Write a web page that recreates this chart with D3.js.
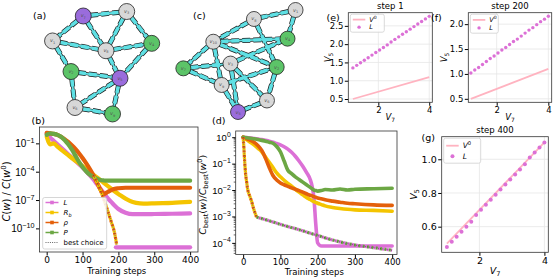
<!DOCTYPE html>
<html>
<head>
<meta charset="utf-8">
<script src="https://cdn.jsdelivr.net/npm/d3@7"></script>
<style>
  body { margin: 0; background: #fff; }
  svg { font-family: "DejaVu Sans", sans-serif; }
</style>
</head>
<body>
<div class="fig"></div>
<script>
// ---------- networks: node layout in 0..100 units ----------
const aNames = ["1", "2", "3", "4", "5", "6", "7", "8", "9"];
const aKinds = ["free", "fixed", "free", "fixed", "source", "free", "source", "free", "fixed"];
const aX = [2.5, 20.6, 75.2, 99.7, 68.6, 24.5, 32.6, 54.9, 61.3];
const aY = [28.8, 58.2, 0.5, 31.1, 64.7, 92.8, 4.8, 38.2, 99.0];
const aEdges = [["7","3"],["7","1"],["7","8"],["3","8"],["3","4"],["1","8"],["1","2"],["8","4"],
                ["8","5"],["4","5"],["2","5"],["2","6"],["5","6"],["5","9"],["6","9"]];

const cNames = ["1", "8", "4", "10", "3", "2", "7", "9", "6", "5"];
const cKinds = ["free", "free", "fixed", "free", "free", "fixed", "fixed", "free", "free", "source"];
const cX = [99.6, 62.8, 92.5, 26.8, 42.0, 82.9, 0.3, 34.2, 74.3, 48.7];
const cY = [0, 8.8, 28.1, 31.1, 52.5, 55.9, 57.2, 73.5, 88.7, 100];
const cEdges = [["1","8"],["1","4"],["8","10"],["8","2"],["10","4"],["10","2"],["10","7"],["10","9"],
                ["7","3"],["7","9"],["3","4"],["3","6"],["3","5"],["9","2"],["9","5"],["2","6"],["6","5"]];

// ---------- (b) cost vs training steps (log10 values) ----------
const bSteps = [0,10,20,30,40,50,60,70,80,90,100,110,120,130,140,150,160,170,180,190,200,220,240,260,280,300,350,400];
const bL   = [0.05,-0.4,-0.75,-1.1,-1.45,-1.8,-2.15,-2.5,-2.85,-3.2,-3.55,-3.95,-4.35,-4.8,-5.3,-5.8,-6.3,-6.8,-7.2,-7.6,-7.95,-8.35,-8.5,-8.5,-8.5,-8.48,-8.45,-8.42];
const bRb  = [-0.3,-1.1,-1.0,-1.35,-1.65,-1.95,-2.25,-2.55,-2.85,-3.1,-3.4,-3.7,-4.0,-4.3,-4.6,-4.9,-5.2,-5.5,-5.8,-6.1,-6.35,-6.85,-7.2,-7.35,-7.38,-7.35,-7.3,-7.2];
const bRho = [0.1,0.05,0.0,-0.1,-0.3,-0.55,-0.85,-1.2,-1.6,-2.05,-2.55,-3.1,-3.7,-4.35,-5.1,-5.9,-6.35,-6.15,-5.95,-5.8,-5.75,-5.7,-5.7,-5.7,-5.7,-5.7,-5.7,-5.7];
const bP   = [-0.1,0.05,0.0,-0.1,-0.3,-0.65,-1.1,-1.65,-2.3,-2.95,-3.5,-3.95,-4.3,-4.55,-4.75,-4.88,-4.93,-4.95,-4.95,-4.95,-4.95,-4.95,-4.95,-4.95,-4.95,-4.95,-4.95,-4.95];
const bBestSteps = [130,140,150,160,170,180,190,195];
const bBestVals  = [-4.35,-5.1,-6.0,-7.0,-8.1,-9.3,-10.6,-11.7];
const bFloorSteps = [193, 400];
const bFloorVals  = [-12.0, -12.0];

// ---------- (d) best-choice cost (log10 values) ----------
const dSteps = [0,10,20,30,40,50,60,70,80,90,100,110,120,130,140,150,160,170,180,185,190,195,200,210,220,240,260,280,300,350,400];
const dL   = [0,-0.01,-0.03,-0.05,-0.07,-0.09,-0.12,-0.15,-0.19,-0.24,-0.29,-0.36,-0.45,-0.57,-0.72,-0.9,-1.1,-1.33,-1.6,-1.85,-2.3,-3.3,-4.0,-4.12,-4.12,-4.12,-4.12,-4.12,-4.12,-4.12,-4.12];
const dRb  = [0,-0.1,-0.2,-0.3,-0.42,-0.55,-0.75,-0.95,-1.15,-1.35,-1.5,-1.63,-1.75,-1.85,-1.97,-2.08,-2.18,-2.28,-2.36,-2.4,-2.44,-2.47,-2.5,-2.55,-2.6,-2.66,-2.7,-2.73,-2.75,-2.77,-2.8];
const dRho = [0,-0.06,-0.12,-0.2,-0.32,-0.5,-0.8,-1.15,-1.45,-1.62,-1.73,-1.8,-1.86,-1.92,-1.97,-2.02,-2.08,-2.14,-2.2,-2.22,-2.25,-2.27,-2.3,-2.33,-2.37,-2.42,-2.46,-2.5,-2.52,-2.56,-2.58];
const dP   = [0,-0.02,-0.04,-0.06,-0.09,-0.12,-0.15,-0.19,-0.23,-0.35,-0.55,-0.9,-1.25,-1.38,-1.5,-1.6,-1.7,-1.8,-1.9,-1.95,-2.0,-2.02,-2.04,-2.02,-1.98,-2.0,-1.96,-2.0,-1.97,-1.95,-1.93];
const dBest1Steps = [0,2,4,6,9,13,17,22,28,36];
const dBest1Vals  = [0,-0.4,-0.9,-1.3,-1.66,-2.03,-2.2,-2.4,-2.7,-3.03];
const dBest2Steps = [36,60,100,150,200,250,300,350,400];
const dBest2Vals  = [-3.03,-3.12,-3.3,-3.5,-3.72,-3.93,-4.08,-4.18,-4.28];

// ---------- (e)-(g) V5 vs V7 ----------
const sweepV7 = [1.0,1.15,1.3,1.45,1.6,1.75,1.9,2.05,2.2,2.35,2.5,2.65,2.8,2.95,3.1,3.25,3.4,3.55,3.7,3.85,4.0];
const v0X = [1, 4];
const v0Y = [0.5, 1.1];
const eL = [1.35,1.42,1.49,1.56,1.63,1.70,1.77,1.84,1.91,1.98,2.06,2.13,2.20,2.27,2.34,2.41,2.48,2.55,2.62,2.69,2.76];
const fL = [1.02,1.08,1.13,1.19,1.25,1.31,1.36,1.42,1.48,1.53,1.59,1.65,1.70,1.76,1.82,1.88,1.93,1.99,2.05,2.10,2.16];
const gL = [0.48,0.51,0.54,0.57,0.60,0.63,0.67,0.70,0.73,0.76,0.79,0.82,0.85,0.88,0.91,0.94,0.97,1.01,1.04,1.07,1.10];

const COL = { L: "#dc70d6", Rb: "#f4c400", rho: "#e4600b", P: "#6ca744" };
const nodeFill = { free: "#d8d8d8", fixed: "#5cc468", source: "#9a6cdc" };

const svg = d3.select(".fig").append("svg").attr("width", 555).attr("height", 277);

// text with italic / sub / sup pieces
function rich(t, parts, size) {
    let off = 0;
    parts.forEach(([s, k]) => {
        const target = k.includes("sub") ? size * 0.25 : k.includes("sup") ? -size * 0.42 : 0;
        const sp = t.append("tspan").text(s).attr("dy", target - off);
        off = target;
        if (k.includes("i")) sp.style("font-style", "italic");
        if (k.includes("sub") || k.includes("sup")) sp.style("font-size", (size * 0.7) + "px");
    });
    return t;
}

function label(x, y, txt, size) {
    svg.append("text").attr("x", x).attr("y", y).style("font-size", size + "px").text(txt);
}

// ---------- network drawing ----------
function drawNetwork(names, kinds, gx, gy, edges, xr, yr, r) {
    const x = d3.scaleLinear().domain([0, 100]).range(xr);
    const y = d3.scaleLinear().domain([0, 100]).range(yr);
    const pos = {};
    names.forEach((n, i) => pos[n] = [x(gx[i]), y(gy[i])]);
    const g = svg.append("g");
    const layers = [[5.0, "#1a1a1a", "8,3"], [3.2, "#1a1a1a", null], [3.6, "#5fe0e4", "8,3"], [1.8, "#5fe0e4", null]];
    layers.forEach(([w, c, dash]) => {
        g.append("g").selectAll("line").data(edges).join("line")
            .attr("x1", d => pos[d[0]][0]).attr("y1", d => pos[d[0]][1])
            .attr("x2", d => pos[d[1]][0]).attr("y2", d => pos[d[1]][1])
            .attr("stroke", c).attr("stroke-width", w)
            .attr("stroke-dasharray", dash).attr("stroke-dashoffset", 4);
    });
    const ng = g.selectAll(".node").data(names).join("g")
        .attr("transform", (d, i) => `translate(${x(gx[i])},${y(gy[i])})`);
    ng.append("circle").attr("r", r)
        .attr("fill", (d, i) => nodeFill[kinds[i]])
        .attr("stroke", "#222").attr("stroke-width", 0.8);
    ng.each(function (d) {
        const t = d3.select(this).append("text").attr("text-anchor", "middle").attr("y", 1.5)
            .attr("fill", "#555").style("font-size", "5px");
        rich(t, [["v", "i"], [d, "sub"]], 5);
    });
}

drawNetwork(aNames, aKinds, aX, aY, aEdges, [50, 152], [11, 115], 8);
drawNetwork(cNames, cKinds, cX, cY, cEdges, [183, 296], [10, 112], 7.5);

// ---------- log panels ----------
function logPanel(o) {
    const x = d3.scaleLinear().domain(o.xDom).range([o.l, o.r]);
    const y = d3.scaleLog().domain(o.yDom.map(e => 10 ** e)).range([o.b, o.t]);
    const g = svg.append("g");
    svg.append("clipPath").attr("id", "clip" + o.id).append("rect")
        .attr("x", o.l).attr("y", o.t).attr("width", o.r - o.l).attr("height", o.b - o.t);
    const plot = g.append("g").attr("clip-path", `url(#clip${o.id})`);
    const line = d3.line().x(d => x(d[0])).y(d => y(10 ** d[1])).curve(d3.curveMonotoneX);

    o.series.forEach(s => {
        plot.append("path").attr("d", line(d3.zip(s.steps, s.vals)))
            .attr("fill", "none").attr("stroke", s.color).attr("stroke-width", s.width)
            .attr("stroke-dasharray", s.dash || null).attr("stroke-dashoffset", s.offset || 0)
            .attr("stroke-linejoin", "round").attr("stroke-linecap", s.dash ? "butt" : "round");
    });

    const xa = g.append("g").attr("transform", `translate(0,${o.b})`)
        .call(d3.axisBottom(x).tickValues([0, 100, 200, 300, 400]).tickSize(3.5).tickPadding(o.xPad));
    xa.attr("font-family", null).attr("font-size", o.xFont);
    xa.select(".domain").remove();

    const ya = g.append("g").attr("transform", `translate(${o.l},0)`)
        .call(d3.axisLeft(y).tickValues(o.yTicks.map(e => 10 ** e)).tickSize(3.5).tickFormat(""));
    ya.select(".domain").remove();
    ya.selectAll(".tick").each(function (d) {
        const e = Math.round(Math.log10(d));
        const t = d3.select(this).append("text").attr("x", -5).attr("y", 0).attr("dy", "0.35em")
            .attr("text-anchor", "end").attr("fill", "#000").style("font-size", o.tickFont + "px");
        t.append("tspan").text("10");
        t.append("tspan").attr("dy", -o.tickFont * 0.45).style("font-size", (o.tickFont * 0.72) + "px")
            .text(e < 0 ? "\u2212" + (-e) : e);
    });
    if (o.minor) {
        const minors = [];
        for (let e = Math.floor(o.yDom[0]); e < o.yDom[1]; e++)
            for (let m = 2; m < 10; m++) {
                const v = m * 10 ** e;
                if (v > 10 ** o.yDom[0] && v < 10 ** o.yDom[1]) minors.push(v);
            }
        g.append("g").selectAll("line").data(minors).join("line")
            .attr("x1", o.l - 2).attr("x2", o.l).attr("y1", d => y(d)).attr("y2", d => y(d))
            .attr("stroke", "#000").attr("stroke-width", 0.6);
    }

    g.append("rect").attr("x", o.l).attr("y", o.t).attr("width", o.r - o.l).attr("height", o.b - o.t)
        .attr("fill", "none").attr("stroke", "#333").attr("stroke-width", 0.8);

    g.append("text").attr("x", (o.l + o.r) / 2 - 2).attr("y", o.xLabelY).attr("text-anchor", "middle")
        .style("font-size", "8.5px").text("Training steps");
    const yl = g.append("text").attr("text-anchor", "middle").style("font-size", o.yLabelSize + "px")
        .attr("transform", `translate(${o.yLabelX},${(o.t + o.b) / 2 + 2}) rotate(-90)`);
    rich(yl, o.yLabel, o.yLabelSize);
    return { x, y, g };
}

const main = (steps, b) => [
    { steps, vals: b[0], color: COL.L, width: b[4] },
    { steps, vals: b[1], color: COL.Rb, width: b[4] },
    { steps, vals: b[2], color: COL.rho, width: b[4] },
    { steps, vals: b[3], color: COL.P, width: b[4] }
];
const dotted = (steps, vals, c1, c2) => [
    { steps, vals, color: c1, width: 3.2, dash: "2.2,2.2" },
    { steps, vals, color: c2, width: 3.2, dash: "2.2,2.2", offset: 2.2 },
    { steps, vals, color: "#444", width: 0.7, dash: "1,1.2" }
];

logPanel({
    id: "b", l: 39.5, r: 198, t: 127, b: 252, xDom: [-20, 422], yDom: [-12.5, 0.73],
    yTicks: [-1, -4, -7, -10], tickFont: 10, xFont: 9, xPad: 1, xLabelY: 273.5,
    yLabelX: 10, yLabelSize: 10,
    yLabel: [["C", "i"], ["(", ""], ["w", "i"], [") / ", ""], ["C", "i"], ["(", ""], ["w", "i"], ["0", "sup"], [")", ""]],
    series: [
        ...main(bSteps, [bL, bRb, bRho, bP, 4.2]),
        ...dotted(bBestSteps, bBestVals, COL.rho, COL.Rb),
        { steps: bFloorSteps, vals: bFloorVals, color: COL.L, width: 4.2 }
    ]
});

logPanel({
    id: "d", l: 235.7, r: 397, t: 131, b: 254.5, xDom: [-20, 413], yDom: [-4.44, 0.235],
    yTicks: [0, -1, -2, -3, -4], tickFont: 9.5, xFont: 8.5, xPad: 0.5, xLabelY: 275, minor: true,
    yLabelX: 206, yLabelSize: 9.5,
    yLabel: [["C", "i"], ["best", "sub"], ["(", ""], ["w", "i"], [")/", ""], ["C", "i"], ["best", "sub"], ["(", ""], ["w", "i"], ["0", "sup"], [")", ""]],
    series: [
        ...main(dSteps, [dL, dRb, dRho, dP, 3.6]),
        ...dotted(dBest1Steps, dBest1Vals, COL.rho, COL.Rb),
        ...dotted(dBest2Steps, dBest2Vals, COL.P, COL.L)
    ]
});

// legend of (b)
(function () {
    const lg = svg.append("g");
    lg.append("rect").attr("x", 42.7).attr("y", 197.5).attr("width", 64).attr("height", 51.5)
        .attr("rx", 2).attr("fill", "#fff").attr("fill-opacity", 0.85).attr("stroke", "#ccc").attr("stroke-width", 0.8);
    const items = [
        { c: COL.L, t: [["L", "i"]] },
        { c: COL.Rb, t: [["R", "i"], ["b", "i sub"]] },
        { c: COL.rho, t: [["\u03c1", "i"]] },
        { c: COL.P, t: [["P", "i"]] },
        { c: "#555", t: [["best choice", ""]], dash: true }
    ];
    items.forEach((it, i) => {
        const yy = 202.5 + i * 10;
        lg.append("line").attr("x1", 45.5).attr("x2", 58.5).attr("y1", yy).attr("y2", yy)
            .attr("stroke", it.c).attr("stroke-width", it.dash ? 0.9 : 1.5)
            .attr("stroke-dasharray", it.dash ? "1,1.2" : null);
        if (!it.dash) lg.append("rect").attr("x", 50.2).attr("y", yy - 1.8).attr("width", 3.6).attr("height", 3.6).attr("fill", it.c);
        const t = lg.append("text").attr("x", 63.5).attr("y", yy + 2.5).style("font-size", "7px");
        rich(t, it.t, 7);
    });
})();

// ---------- linear panels ----------
function linPanel(o) {
    const x = d3.scaleLinear().domain(o.xDom).range([o.l, o.r]);
    const y = d3.scaleLinear().domain(o.yDom).range([o.b, o.t]);
    const g = svg.append("g");
    g.append("g").selectAll("line").data([2, 4]).join("line")
        .attr("x1", d => x(d)).attr("x2", d => x(d)).attr("y1", o.t).attr("y2", o.b)
        .attr("stroke", "#e6e6e6").attr("stroke-width", 0.8);
    g.append("g").selectAll("line").data(o.yTicks).join("line")
        .attr("y1", d => y(d)).attr("y2", d => y(d)).attr("x1", o.l).attr("x2", o.r)
        .attr("stroke", "#e6e6e6").attr("stroke-width", 0.8);

    g.append("path").attr("d", d3.line().x(d => x(d[0])).y(d => y(d[1]))(d3.zip(v0X, v0Y)))
        .attr("stroke", "#ffb3c0").attr("stroke-width", 1.8).attr("fill", "none");
    g.selectAll("circle.dot").data(d3.zip(sweepV7, o.vals)).join("circle")
        .attr("cx", d => x(d[0])).attr("cy", d => y(d[1])).attr("r", o.dotR).attr("fill", COL.L);

    const xa = g.append("g").attr("transform", `translate(0,${o.b})`)
        .call(d3.axisBottom(x).tickValues([2, 4]).tickSize(3.5).tickPadding(1.5).tickFormat(d3.format("d")));
    xa.attr("font-family", null).attr("font-size", o.font);
    xa.select(".domain").remove();
    const ya = g.append("g").attr("transform", `translate(${o.l},0)`)
        .call(d3.axisLeft(y).tickValues(o.yTicks).tickSize(3.5).tickPadding(1.5).tickFormat(d3.format(".1f")));
    ya.attr("font-family", null).attr("font-size", o.font);
    ya.select(".domain").remove();

    g.append("rect").attr("x", o.l).attr("y", o.t).attr("width", o.r - o.l).attr("height", o.b - o.t)
        .attr("fill", "none").attr("stroke", "#333").attr("stroke-width", 0.8);

    g.append("text").attr("x", (o.l + o.r) / 2).attr("y", o.titleY).attr("text-anchor", "middle")
        .style("font-size", "8.5px").text(o.title);
    const xl = g.append("text").attr("x", (o.l + o.r) / 2).attr("y", o.xLabelY).attr("text-anchor", "middle")
        .style("font-size", o.font + "px");
    rich(xl, [["V", "i"], ["7", "sub"]], o.font);
    const yl = g.append("text").attr("text-anchor", "middle").style("font-size", o.font + "px")
        .attr("transform", `translate(${o.yLabelX},${(o.t + o.b) / 2}) rotate(-90)`);
    rich(yl, [["V", "i"], ["5", "sub"]], o.font);

    // legend
    const lx = o.l + 2, ly = o.t + 1.5, fs = o.legFont;
    g.append("rect").attr("x", lx).attr("y", ly).attr("width", o.legW).attr("height", o.legH)
        .attr("rx", 2).attr("fill", "#fff").attr("fill-opacity", 0.85).attr("stroke", "#d0d0d0").attr("stroke-width", 0.8);
    const r1 = ly + o.legH * 0.3, r2 = ly + o.legH * 0.72;
    g.append("line").attr("x1", lx + 2.5).attr("x2", lx + 15).attr("y1", r1).attr("y2", r1)
        .attr("stroke", "#ffb3c0").attr("stroke-width", 1.8);
    g.append("circle").attr("cx", lx + 8.75).attr("cy", r2).attr("r", o.dotR).attr("fill", COL.L);
    rich(g.append("text").attr("x", lx + 19).attr("y", r1 + fs * 0.35).style("font-size", fs + "px"), [["V", "i"], ["0", "sup"]], fs);
    rich(g.append("text").attr("x", lx + 19).attr("y", r2 + fs * 0.35).style("font-size", fs + "px"), [["L", "i"]], fs);
}

linPanel({
    l: 348.3, r: 432.3, t: 12.7, b: 102.3, xDom: [0.82, 4.12], yDom: [0.41, 2.86],
    yTicks: [0.5, 1.0, 1.5, 2.0, 2.5], vals: eL, title: "step 1", titleY: 8.5,
    font: 8.5, dotR: 1.7, xLabelY: 120, yLabelX: 331, legW: 34, legH: 18, legFont: 6.5
});
linPanel({
    l: 468.3, r: 551.7, t: 12.7, b: 102.3, xDom: [0.9, 4.13], yDom: [0.43, 2.23],
    yTicks: [0.5, 1.0, 1.5, 2.0], vals: fL, title: "step 200", titleY: 8.5,
    font: 8.5, dotR: 1.7, xLabelY: 120, yLabelX: 447, legW: 28, legH: 19, legFont: 6.5
});
linPanel({
    l: 441.7, r: 548.3, t: 136.7, b: 252.3, xDom: [0.84, 4.12], yDom: [0.448, 1.134],
    yTicks: [0.6, 0.8, 1.0], vals: gL, title: "step 400", titleY: 133,
    font: 9.5, dotR: 2, xLabelY: 274, yLabelX: 417, legW: 37, legH: 25, legFont: 7.5
});

// panel letters
label(33, 18.5, "(a)", 9.5);
label(31.5, 123.5, "(b)", 9.5);
label(193, 18.5, "(c)", 9.5);
label(212, 123.5, "(d)", 9.5);
label(326.5, 20.5, "(e)", 9.5);
label(431, 20.5, "(f)", 9.5);
label(421.5, 140.5, "(g)", 9.5);
</script>
</body>
</html>
